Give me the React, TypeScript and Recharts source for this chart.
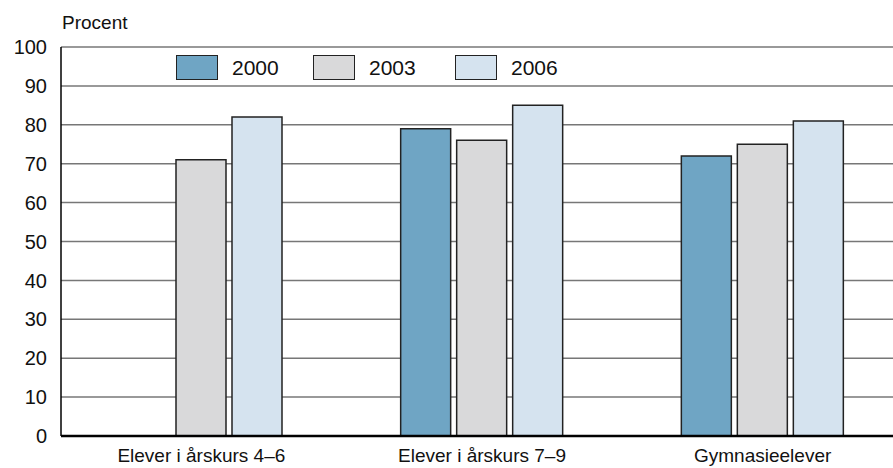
import React from "react";
import { BarChart, Bar, XAxis, YAxis, CartesianGrid, Legend, Customized } from "recharts";

const categories = ["Elever i årskurs 4–6", "Elever i årskurs 7–9", "Gymnasieelever"];
const values2000: (number | null)[] = [null, 79, 72];
const values2003 = [71, 76, 75];
const values2006 = [82, 85, 81];
const yTicks = [0, 10, 20, 30, 40, 50, 60, 70, 80, 90, 100];
const seriesNames = ["2000", "2003", "2006"];
const seriesColors = ["#6fa5c4", "#d9d9da", "#d5e3ef"];

const data = categories.map((c, i) => ({
  name: c,
  s2000: values2000[i],
  s2003: values2003[i],
  s2006: values2006[i],
}));

const FONT = "'Liberation Sans', Arial, sans-serif";

const renderLegend = () => (
  <div style={{ display: "flex", fontFamily: FONT, fontSize: 21, color: "#111" }}>
    {seriesNames.map((n, i) => (
      <div key={n} style={{ display: "flex", alignItems: "center", width: i === 0 ? 137 : 142 }}>
        <div
          style={{
            width: 40,
            height: 23,
            background: seriesColors[i],
            border: "1.5px solid #222",
            marginRight: 14,
          }}
        />
        <span>{n}</span>
      </div>
    ))}
  </div>
);

export default function App() {
  return (
    <div style={{ position: "absolute", left: 0, top: 0, width: 893, height: 468, overflow: "hidden", background: "#fff" }}>
      <BarChart
        width={903}
        height={468}
        data={data}
        margin={{ top: 47, right: 0, bottom: 0, left: 0 }}
        barSize={50}
        barGap={6}
      >
        <CartesianGrid vertical={false} stroke="#777" strokeWidth={1.5} />
        <XAxis
          dataKey="name"
          height={32}
          tickLine={false}
          tickSize={0}
          tickMargin={13}
          axisLine={{ stroke: "#000", strokeWidth: 2.5 }}
          tick={{ fill: "#111", fontSize: 19, fontFamily: FONT }}
          interval={0}
        />
        <YAxis
          width={61}
          domain={[0, 100]}
          ticks={yTicks}
          interval={0}
          tickLine={false}
          tickSize={0}
          tickMargin={14}
          axisLine={{ stroke: "#000", strokeWidth: 1.5 }}
          tick={{ fill: "#111", fontSize: 20, fontFamily: FONT }}
        />
        <Legend
          layout="horizontal"
          verticalAlign="middle"
          align="center"
          content={renderLegend}
          wrapperStyle={{ position: "absolute", top: 55, left: 176, width: 450 }}
        />
        <Bar dataKey="s2000" name="2000" fill={seriesColors[0]} stroke="#222" strokeWidth={1.5} isAnimationActive={false} />
        <Bar dataKey="s2003" name="2003" fill={seriesColors[1]} stroke="#222" strokeWidth={1.5} isAnimationActive={false} />
        <Bar dataKey="s2006" name="2006" fill={seriesColors[2]} stroke="#222" strokeWidth={1.5} isAnimationActive={false} />
        <Customized
          component={() => (
            <text x={62} y={29} fontSize={19} fontFamily={FONT} fill="#111">
              Procent
            </text>
          )}
        />
      </BarChart>
    </div>
  );
}
